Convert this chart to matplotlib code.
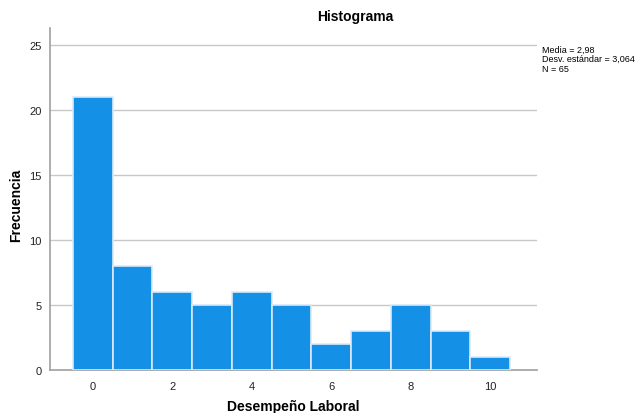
import matplotlib
matplotlib.use("Agg")
import matplotlib.pyplot as plt
import numpy as np

bin_centers = [0, 1, 2, 3, 4, 5, 6, 7, 8, 9, 10]
counts = [21, 8, 6, 5, 6, 5, 2, 3, 5, 3, 1]
x_ticks = [0, 2, 4, 6, 8, 10]
y_ticks = [0, 5, 10, 15, 20, 25]
title = "Histograma"
xlabel = "Desempeño Laboral"
ylabel = "Frecuencia"
stats = ["Media = 2,98", "Desv. estándar = 3,064", "N = 65"]

plt.rcParams['font.family'] = ['Liberation Sans', 'DejaVu Sans']

fig = plt.figure(figsize=(6.4, 4.14), dpi=100)
ax = fig.add_axes([50/640, 43/414, 487/640, 342/414])

ax.set_axisbelow(True)
ax.yaxis.grid(True, color='#c8c8c8', linewidth=1)
ax.bar(bin_centers, counts, width=1.0, color='#1490E6', edgecolor='#dbeaf7', linewidth=1.2, zorder=3)

ax.set_xlim(-1.08, 11.18)
ax.set_ylim(0, 26.3)
ax.set_xticks(x_ticks)
ax.set_yticks(y_ticks)
ax.tick_params(axis='both', length=0, labelsize=8, colors='#222222')
ax.tick_params(axis='x', pad=8)
ax.tick_params(axis='y', pad=6)

for s in ['top', 'right']:
    ax.spines[s].set_visible(False)
ax.spines['left'].set_color('#a0a0a0')
ax.spines['bottom'].set_color('#a0a0a0')
ax.spines['left'].set_linewidth(1.2)
ax.spines['bottom'].set_linewidth(1.2)

fig.text(355/640, 1 - 17/414, title, ha='center', va='center', fontsize=10, fontweight='bold')
fig.text(293/640, 1 - 407/414, xlabel, ha='center', va='center', fontsize=10, fontweight='bold')
fig.text(16/640, 1 - 205/414, ylabel, ha='center', va='center', fontsize=10, fontweight='bold', rotation=90)

for i, s in enumerate(stats):
    fig.text(542/640, 1 - (50 + i*9.5)/414, s, ha='left', va='center', fontsize=6.5)

fig.savefig("out.png", dpi=100)
